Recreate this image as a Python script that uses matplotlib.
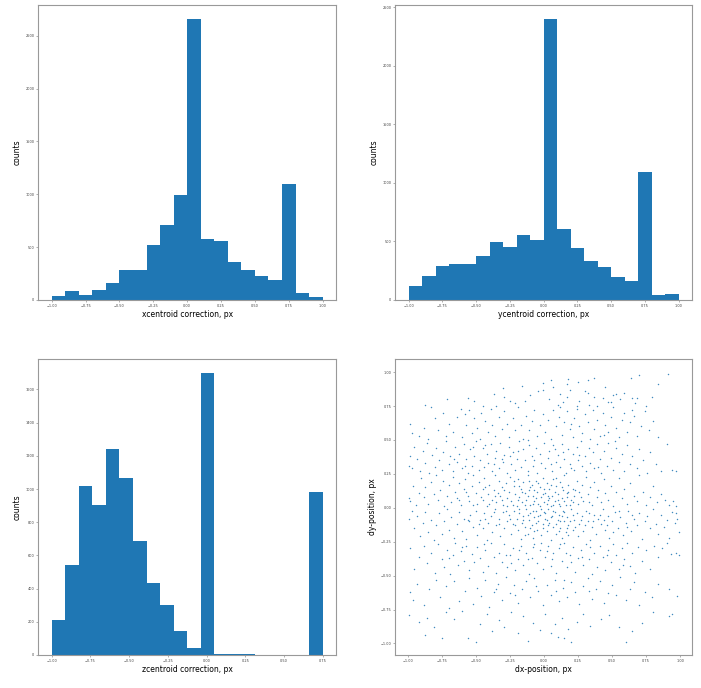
import numpy as np
import matplotlib
matplotlib.use("Agg")
import matplotlib.pyplot as plt
from matplotlib.ticker import MultipleLocator

# histogram counts (20 bins each)
x_counts = [41, 82, 50, 95, 158, 280, 280, 517, 709, 996,
            2657, 580, 558, 356, 284, 227, 189, 1094, 69, 25]
y_counts = [119, 208, 287, 310, 304, 375, 495, 452, 552, 515,
            2398, 603, 444, 336, 284, 196, 162, 1092, 43, 48]
z_counts = [211, 545, 1020, 903, 1243, 1064, 684, 433, 302, 143,
            44, 1698, 8, 3, 6, 0, 0, 0, 0, 982]

x_range = (-1.0, 1.0)
y_range = (-1.0, 1.0)
z_range = (-1.0, 0.75)

# scatter points (dx, dy), grouped in dy bands
band_a = [(-0.01, 0.92), (0.05, 0.94), (0.18, 0.95), (0.25, 0.93), (0.32, 0.94), (0.37, 0.96),
          (0.70, 0.98), (0.91, 0.99), (0.64, 0.96), (-0.16, 0.90), (-0.29, 0.82), (-0.25, 0.79),
          (-0.56, 0.81), (-0.71, 0.80), (-0.87, 0.76), (-0.51, 0.79), (0.07, 0.89), (0.19, 0.87),
          (0.30, 0.86), (0.45, 0.89), (0.53, 0.84), (0.59, 0.85), (0.68, 0.81), (0.79, 0.82),
          (0.84, 0.91), (-0.04, 0.86), (-0.14, 0.79), (0.43, 0.81), (0.39, 0.75), (0.75, 0.75),
          (0.65, 0.72), (-0.01, 0.87), (0.12, 0.84), (0.17, 0.82), (0.26, 0.79), (0.33, 0.76),
          (0.49, 0.78), (0.56, 0.80), (0.65, 0.81), (0.17, 0.91), (0.32, 0.85), (-0.10, 0.83),
          (-0.37, 0.84), (-0.30, 0.88), (0.04, 0.80), (0.37, 0.82), (0.47, 0.78), (0.10, 0.76),
          (-0.21, 0.77), (-0.45, 0.75), (0.14, 0.78), (0.67, 0.77), (0.51, 0.83), (0.24, 0.75)]
band_b = [(-0.98, 0.62), (-0.97, 0.55), (-0.92, 0.53), (-0.88, 0.59), (-0.85, 0.51), (-0.83, 0.74),
          (-0.78, 0.57), (-0.74, 0.70), (-0.72, 0.53), (-0.70, 0.62), (-0.67, 0.56), (-0.64, 0.67),
          (-0.61, 0.73), (-0.60, 0.52), (-0.57, 0.61), (-0.55, 0.72), (-0.53, 0.55), (-0.51, 0.66),
          (-0.49, 0.59), (-0.47, 0.51), (-0.46, 0.70), (-0.43, 0.64), (-0.41, 0.56), (-0.39, 0.73),
          (-0.38, 0.61), (-0.36, 0.53), (-0.33, 0.67), (-0.31, 0.58), (-0.29, 0.71), (-0.27, 0.62),
          (-0.26, 0.52), (-0.23, 0.66), (-0.21, 0.57), (-0.19, 0.74), (-0.17, 0.61), (-0.15, 0.51),
          (-0.13, 0.68), (-0.11, 0.57), (-0.09, 0.64), (-0.07, 0.72), (-0.05, 0.53), (-0.03, 0.61),
          (-0.01, 0.69), (0.01, 0.56), (0.03, 0.65), (0.05, 0.51), (0.07, 0.72), (0.09, 0.60),
          (0.11, 0.67), (0.13, 0.54), (0.15, 0.63), (0.17, 0.71), (0.19, 0.58), (0.21, 0.52),
          (0.22, 0.66), (0.24, 0.73), (0.26, 0.60), (0.28, 0.55), (0.30, 0.69), (0.32, 0.63),
          (0.34, 0.51), (0.36, 0.72), (0.37, 0.58), (0.39, 0.65), (0.41, 0.53), (0.43, 0.70),
          (0.45, 0.61), (0.47, 0.56), (0.49, 0.67), (0.51, 0.74), (0.53, 0.59), (0.55, 0.52),
          (0.57, 0.65), (0.59, 0.70), (0.61, 0.56), (0.63, 0.63), (0.66, 0.68), (0.68, 0.53),
          (0.71, 0.60), (0.74, 0.71), (0.77, 0.57), (0.80, 0.64), (0.84, 0.52), (-0.80, 0.66),
          (-0.58, 0.69), (0.12, 0.74), (0.44, 0.54), (-0.35, 0.75), (0.20, 0.62), (-0.12, 0.50)]
band_c = [(-0.99, 0.31), (-0.98, 0.38), (-0.97, 0.29), (-0.95, 0.45), (-0.93, 0.36), (-0.91, 0.27),
          (-0.89, 0.42), (-0.87, 0.33), (-0.86, 0.48), (-0.84, 0.26), (-0.82, 0.39), (-0.80, 0.30),
          (-0.79, 0.44), (-0.77, 0.35), (-0.75, 0.28), (-0.74, 0.41), (-0.72, 0.49), (-0.70, 0.32),
          (-0.69, 0.38), (-0.67, 0.27), (-0.65, 0.45), (-0.64, 0.34), (-0.62, 0.40), (-0.60, 0.29),
          (-0.59, 0.47), (-0.57, 0.36), (-0.56, 0.26), (-0.54, 0.43), (-0.53, 0.31), (-0.51, 0.38),
          (-0.50, 0.49), (-0.48, 0.28), (-0.47, 0.35), (-0.45, 0.44), (-0.44, 0.30), (-0.42, 0.40),
          (-0.41, 0.33), (-0.39, 0.47), (-0.38, 0.27), (-0.36, 0.37), (-0.35, 0.42), (-0.33, 0.29),
          (-0.32, 0.48), (-0.30, 0.34), (-0.29, 0.39), (-0.27, 0.26), (-0.26, 0.45), (-0.24, 0.32),
          (-0.23, 0.41), (-0.21, 0.28), (-0.20, 0.36), (-0.18, 0.49), (-0.17, 0.30), (-0.15, 0.43),
          (-0.14, 0.35), (-0.12, 0.27), (-0.11, 0.46), (-0.09, 0.38), (-0.08, 0.31), (-0.06, 0.44),
          (-0.05, 0.26), (-0.03, 0.40), (-0.02, 0.33), (0.00, 0.48), (0.01, 0.29), (0.03, 0.37),
          (0.04, 0.42), (0.06, 0.27), (0.07, 0.46), (0.09, 0.34), (0.10, 0.39), (0.12, 0.30),
          (0.13, 0.47), (0.15, 0.36), (0.16, 0.26), (0.18, 0.43), (0.19, 0.32), (0.21, 0.40),
          (0.22, 0.28), (0.24, 0.45), (0.25, 0.35), (0.27, 0.49), (0.28, 0.31), (0.30, 0.38),
          (0.31, 0.27), (0.33, 0.44), (0.34, 0.33), (0.36, 0.41), (0.37, 0.29), (0.39, 0.47),
          (0.41, 0.36), (0.42, 0.26), (0.44, 0.42), (0.46, 0.31), (0.47, 0.48), (0.49, 0.37),
          (0.51, 0.28), (0.53, 0.44), (0.55, 0.34), (0.57, 0.40), (0.59, 0.27), (0.61, 0.46),
          (0.63, 0.32), (0.65, 0.38), (0.68, 0.29), (0.70, 0.43), (0.73, 0.35), (0.76, 0.26),
          (0.78, 0.41), (0.82, 0.32), (0.86, 0.27), (0.90, 0.47), (0.94, 0.28), (0.97, 0.27),
          (-0.58, 0.31), (-0.43, 0.46), (-0.31, 0.36), (-0.19, 0.42), (-0.07, 0.35), (0.05, 0.32),
          (0.14, 0.41), (0.26, 0.39), (-0.37, 0.32), (-0.25, 0.38), (0.40, 0.30), (0.52, 0.49),
          (-0.66, 0.36), (-0.52, 0.45), (0.08, 0.43), (0.20, 0.29)]
band_d = [(-0.99, 0.07), (-0.98, 0.05), (-0.96, 0.16), (-0.94, 0.02), (-0.92, 0.11), (-0.90, 0.22),
          (-0.88, 0.08), (-0.87, 0.15), (-0.85, 0.03), (-0.83, 0.19), (-0.81, 0.10), (-0.79, 0.24),
          (-0.78, 0.06), (-0.76, 0.13), (-0.74, 0.20), (-0.73, 0.01), (-0.71, 0.09), (-0.70, 0.17),
          (-0.68, 0.04), (-0.67, 0.23), (-0.65, 0.12), (-0.64, 0.07), (-0.62, 0.18), (-0.61, 0.02),
          (-0.59, 0.14), (-0.58, 0.21), (-0.56, 0.09), (-0.55, 0.05), (-0.53, 0.16), (-0.52, 0.24),
          (-0.50, 0.11), (-0.49, 0.03), (-0.48, 0.19), (-0.46, 0.08), (-0.45, 0.14), (-0.44, 0.22),
          (-0.42, 0.01), (-0.41, 0.10), (-0.40, 0.17), (-0.38, 0.06), (-0.37, 0.13), (-0.36, 0.24),
          (-0.35, 0.04), (-0.33, 0.20), (-0.32, 0.09), (-0.31, 0.15), (-0.30, 0.02), (-0.28, 0.18),
          (-0.27, 0.07), (-0.26, 0.12), (-0.25, 0.23), (-0.24, 0.05), (-0.22, 0.16), (-0.21, 0.10),
          (-0.20, 0.01), (-0.19, 0.21), (-0.18, 0.08), (-0.17, 0.14), (-0.16, 0.04), (-0.15, 0.19),
          (-0.14, 0.11), (-0.13, 0.06), (-0.12, 0.24), (-0.11, 0.13), (-0.10, 0.02), (-0.09, 0.17),
          (-0.08, 0.09), (-0.07, 0.05), (-0.06, 0.20), (-0.05, 0.12), (-0.04, 0.03), (-0.03, 0.15),
          (-0.02, 0.08), (-0.01, 0.22), (0.00, 0.04), (0.01, 0.11), (0.02, 0.18), (0.03, 0.06),
          (0.04, 0.14), (0.05, 0.01), (0.06, 0.09), (0.07, 0.21), (0.08, 0.05), (0.09, 0.16),
          (0.10, 0.10), (0.11, 0.03), (0.12, 0.19), (0.13, 0.07), (0.14, 0.13), (0.15, 0.24),
          (0.16, 0.02), (0.17, 0.11), (0.18, 0.17), (0.20, 0.06), (0.21, 0.14), (0.22, 0.09),
          (0.24, 0.20), (0.25, 0.03), (0.26, 0.12), (0.28, 0.17), (0.29, 0.05), (0.31, 0.23),
          (0.32, 0.10), (0.34, 0.15), (0.35, 0.02), (0.37, 0.19), (0.39, 0.08), (0.40, 0.13),
          (0.42, 0.04), (0.44, 0.21), (0.45, 0.11), (0.47, 0.06), (0.49, 0.16), (0.51, 0.01),
          (0.53, 0.12), (0.55, 0.22), (0.57, 0.07), (0.59, 0.14), (0.61, 0.03), (0.63, 0.18),
          (0.66, 0.09), (0.68, 0.05), (0.70, 0.24), (0.73, 0.12), (0.75, 0.02), (0.78, 0.08),
          (0.80, 0.16), (0.83, 0.04), (0.86, 0.10), (0.89, 0.06), (0.92, 0.02), (0.95, 0.05),
          (0.97, 0.01), (-0.45, 0.06), (-0.40, 0.03), (-0.34, 0.11), (-0.29, 0.13), (-0.23, 0.02),
          (-0.22, 0.20), (-0.19, 0.06), (-0.16, 0.12), (-0.14, 0.02), (-0.12, 0.09), (-0.10, 0.15),
          (-0.08, 0.03), (-0.06, 0.07), (-0.04, 0.18), (-0.03, 0.01), (-0.01, 0.10), (0.00, 0.14),
          (0.02, 0.03), (0.03, 0.09), (0.05, 0.17), (0.07, 0.02), (0.08, 0.12), (0.10, 0.06),
          (0.12, 0.01), (0.13, 0.15), (0.15, 0.05), (0.17, 0.08), (0.19, 0.02), (0.21, 0.04),
          (0.23, 0.13), (-0.27, 0.01), (-0.31, 0.06), (-0.36, 0.09), (-0.43, 0.15), (-0.52, 0.02),
          (-0.57, 0.12), (-0.62, 0.06), (-0.11, 0.20), (0.09, 0.22), (-0.18, 0.16), (-0.07, 0.13),
          (0.04, 0.07), (0.27, 0.08), (0.33, 0.04), (0.18, 0.12)]
band_e = [(-0.99, -0.08), (-0.97, -0.02), (-0.95, -0.15), (-0.93, -0.06), (-0.91, -0.21), (-0.89, -0.11),
          (-0.87, -0.03), (-0.85, -0.18), (-0.83, -0.09), (-0.81, -0.24), (-0.79, -0.13), (-0.77, -0.04),
          (-0.75, -0.19), (-0.73, -0.10), (-0.71, -0.01), (-0.70, -0.16), (-0.68, -0.07), (-0.66, -0.22),
          (-0.64, -0.12), (-0.62, -0.03), (-0.60, -0.17), (-0.59, -0.08), (-0.57, -0.23), (-0.55, -0.10),
          (-0.54, -0.05), (-0.52, -0.14), (-0.50, -0.02), (-0.49, -0.20), (-0.47, -0.09), (-0.45, -0.15),
          (-0.44, -0.04), (-0.42, -0.24), (-0.41, -0.11), (-0.39, -0.06), (-0.38, -0.18), (-0.36, -0.01),
          (-0.35, -0.13), (-0.33, -0.08), (-0.32, -0.21), (-0.30, -0.03), (-0.29, -0.15), (-0.27, -0.10),
          (-0.26, -0.05), (-0.24, -0.19), (-0.23, -0.12), (-0.22, -0.02), (-0.20, -0.08), (-0.19, -0.16),
          (-0.18, -0.04), (-0.17, -0.23), (-0.16, -0.11), (-0.15, -0.06), (-0.14, -0.14), (-0.13, -0.01),
          (-0.12, -0.19), (-0.11, -0.09), (-0.10, -0.04), (-0.09, -0.13), (-0.08, -0.22), (-0.07, -0.07),
          (-0.06, -0.02), (-0.05, -0.16), (-0.04, -0.10), (-0.03, -0.05), (-0.02, -0.20), (-0.01, -0.12),
          (0.00, -0.03), (0.01, -0.08), (0.02, -0.17), (0.03, -0.01), (0.04, -0.11), (0.05, -0.24),
          (0.06, -0.06), (0.07, -0.14), (0.08, -0.03), (0.09, -0.19), (0.10, -0.09), (0.11, -0.05),
          (0.12, -0.15), (0.13, -0.22), (0.14, -0.02), (0.15, -0.10), (0.16, -0.18), (0.17, -0.07),
          (0.18, -0.13), (0.20, -0.01), (0.21, -0.16), (0.22, -0.09), (0.24, -0.04), (0.25, -0.21),
          (0.26, -0.12), (0.28, -0.06), (0.29, -0.17), (0.31, -0.02), (0.32, -0.10), (0.34, -0.24),
          (0.35, -0.14), (0.37, -0.05), (0.38, -0.19), (0.40, -0.08), (0.42, -0.12), (0.43, -0.01),
          (0.45, -0.16), (0.47, -0.06), (0.48, -0.22), (0.50, -0.10), (0.52, -0.03), (0.54, -0.15),
          (0.56, -0.07), (0.58, -0.20), (0.60, -0.11), (0.62, -0.02), (0.64, -0.17), (0.66, -0.08),
          (0.68, -0.13), (0.70, -0.04), (0.72, -0.23), (0.74, -0.10), (0.76, -0.06), (0.78, -0.15),
          (0.80, -0.01), (0.82, -0.12), (0.84, -0.19), (0.86, -0.05), (0.88, -0.14), (0.90, -0.09),
          (0.92, -0.22), (0.94, -0.03), (0.96, -0.11), (0.97, -0.04), (0.98, -0.08), (0.99, -0.18),
          (-0.28, -0.02), (-0.25, -0.08), (-0.21, -0.13), (-0.18, -0.01), (-0.15, -0.09), (-0.12, -0.05),
          (-0.10, -0.15), (-0.08, -0.02), (-0.06, -0.11), (-0.04, -0.06), (-0.02, -0.01), (-0.01, -0.15),
          (0.01, -0.04), (0.03, -0.13), (0.05, -0.07), (0.07, -0.02), (0.09, -0.12), (0.11, -0.17),
          (0.13, -0.06), (0.15, -0.03), (0.17, -0.15), (0.19, -0.10), (0.21, -0.05), (0.23, -0.14),
          (0.27, -0.09), (0.30, -0.13), (0.33, -0.04), (0.36, -0.10), (0.41, -0.05), (0.46, -0.13),
          (0.51, -0.18), (0.55, -0.02), (0.61, -0.14), (-0.33, -0.12), (-0.37, -0.03), (-0.43, -0.08),
          (-0.48, -0.12), (-0.56, -0.09), (0.12, -0.10), (0.02, -0.09), (-0.07, -0.17), (0.18, -0.20),
          (0.44, -0.09), (0.65, -0.05), (-0.14, -0.20)]
band_f = [(-0.98, -0.30), (-0.95, -0.45), (-0.92, -0.36), (-0.88, -0.28), (-0.86, -0.41), (-0.83, -0.33),
          (-0.80, -0.48), (-0.78, -0.27), (-0.75, -0.38), (-0.73, -0.44), (-0.71, -0.31), (-0.69, -0.49),
          (-0.67, -0.35), (-0.65, -0.26), (-0.63, -0.42), (-0.61, -0.32), (-0.59, -0.39), (-0.57, -0.28),
          (-0.55, -0.46), (-0.53, -0.34), (-0.51, -0.40), (-0.49, -0.29), (-0.47, -0.37), (-0.45, -0.47),
          (-0.43, -0.31), (-0.41, -0.43), (-0.39, -0.26), (-0.37, -0.36), (-0.35, -0.48), (-0.33, -0.33),
          (-0.31, -0.40), (-0.29, -0.27), (-0.27, -0.44), (-0.25, -0.35), (-0.23, -0.30), (-0.21, -0.46),
          (-0.19, -0.38), (-0.17, -0.28), (-0.15, -0.42), (-0.13, -0.33), (-0.11, -0.49), (-0.09, -0.37),
          (-0.07, -0.27), (-0.05, -0.41), (-0.03, -0.31), (-0.01, -0.45), (0.01, -0.36), (0.03, -0.28),
          (0.05, -0.43), (0.07, -0.33), (0.09, -0.48), (0.11, -0.30), (0.13, -0.39), (0.15, -0.26),
          (0.17, -0.44), (0.19, -0.35), (0.21, -0.29), (0.23, -0.47), (0.25, -0.37), (0.27, -0.31),
          (0.29, -0.42), (0.31, -0.27), (0.33, -0.38), (0.35, -0.49), (0.37, -0.33), (0.39, -0.44),
          (0.41, -0.28), (0.43, -0.36), (0.45, -0.46), (0.47, -0.31), (0.49, -0.40), (0.51, -0.27),
          (0.53, -0.35), (0.55, -0.45), (0.57, -0.30), (0.59, -0.38), (0.61, -0.26), (0.63, -0.43),
          (0.65, -0.33), (0.67, -0.48), (0.69, -0.29), (0.72, -0.39), (0.75, -0.31), (0.78, -0.45),
          (0.81, -0.28), (0.84, -0.36), (0.87, -0.30), (0.90, -0.26), (0.93, -0.34), (0.97, -0.33),
          (0.99, -0.35), (-0.28, -0.35), (-0.18, -0.31), (-0.08, -0.29), (0.02, -0.32), (0.12, -0.27),
          (0.20, -0.40), (0.06, -0.38), (-0.02, -0.26), (-0.12, -0.38), (-0.44, -0.27), (-0.60, -0.29),
          (-0.70, -0.37), (0.34, -0.29), (0.46, -0.35), (0.58, -0.42), (0.16, -0.33), (-0.24, -0.41),
          (0.28, -0.36)]
band_g = [(-0.98, -0.62), (-0.96, -0.68), (-0.93, -0.56), (-0.88, -0.72), (-0.84, -0.60), (-0.79, -0.53),
          (-0.76, -0.66), (-0.72, -0.58), (-0.70, -0.74), (-0.66, -0.54), (-0.62, -0.69), (-0.58, -0.61),
          (-0.55, -0.52), (-0.52, -0.71), (-0.49, -0.59), (-0.46, -0.65), (-0.43, -0.53), (-0.40, -0.73),
          (-0.37, -0.62), (-0.34, -0.56), (-0.31, -0.68), (-0.28, -0.51), (-0.25, -0.63), (-0.22, -0.57),
          (-0.19, -0.70), (-0.16, -0.60), (-0.13, -0.54), (-0.10, -0.66), (-0.07, -0.52), (-0.04, -0.61),
          (-0.01, -0.72), (0.02, -0.57), (0.05, -0.64), (0.08, -0.53), (0.11, -0.69), (0.14, -0.59),
          (0.17, -0.66), (0.20, -0.55), (0.23, -0.62), (0.26, -0.71), (0.29, -0.58), (0.32, -0.52),
          (0.35, -0.67), (0.38, -0.60), (0.41, -0.54), (0.44, -0.70), (0.47, -0.63), (0.50, -0.57),
          (0.53, -0.64), (0.56, -0.51), (0.60, -0.68), (0.63, -0.60), (0.66, -0.55), (0.70, -0.72),
          (0.74, -0.62), (0.79, -0.66), (0.84, -0.56), (0.92, -0.60), (0.98, -0.65), (-0.06, -0.58),
          (0.09, -0.61), (0.15, -0.53), (-0.21, -0.64), (0.33, -0.61), (-0.35, -0.60)]
band_h = [(-0.99, -0.79), (-0.92, -0.84), (-0.87, -0.94), (-0.86, -0.81), (-0.81, -0.88), (-0.75, -0.96),
          (-0.72, -0.77), (-0.66, -0.82), (-0.60, -0.76), (-0.56, -0.96), (-0.50, -0.99), (-0.47, -0.86),
          (-0.42, -0.78), (-0.38, -0.91), (-0.33, -0.83), (-0.29, -0.88), (-0.24, -0.77), (-0.19, -0.92),
          (-0.15, -0.80), (-0.12, -0.98), (-0.08, -0.85), (-0.03, -0.90), (0.01, -0.78), (0.05, -0.92),
          (0.08, -0.86), (0.10, -0.95), (0.13, -0.81), (0.15, -0.96), (0.18, -0.89), (0.20, -0.99),
          (0.24, -0.84), (0.29, -0.78), (0.34, -0.87), (0.42, -0.82), (0.48, -0.79), (0.55, -0.88),
          (0.60, -0.99), (0.65, -0.91), (0.72, -0.85), (0.80, -0.77), (0.92, -0.80), (0.94, -0.78)]

BLUE = "#1f77b4"


def style_axes(ax):
    for sp in ax.spines.values():
        sp.set_color("0.6")
        sp.set_linewidth(0.8)
    ax.tick_params(labelsize=2.5, length=1.5, width=0.4, pad=1.2,
                   color="0.45", labelcolor="0.25")


def draw_hist(ax, counts, rng, xlabel, ystep):
    edges = np.linspace(rng[0], rng[1], len(counts) + 1)
    centers = (edges[:-1] + edges[1:]) / 2
    ax.hist(centers, bins=edges, weights=counts, color=BLUE)
    ax.xaxis.set_major_locator(MultipleLocator(0.25))
    ax.yaxis.set_major_locator(MultipleLocator(ystep))
    ax.set_xlabel(xlabel, fontsize=5.5, labelpad=1.5)
    ax.set_ylabel("counts", fontsize=5.5, labelpad=2.5)
    style_axes(ax)


def main():
    fig = plt.figure(figsize=(7.01, 6.88), dpi=100)
    ax1 = fig.add_axes([0.0545, 0.564, 0.4250, 0.4285])
    ax2 = fig.add_axes([0.5635, 0.564, 0.4237, 0.4285])
    ax3 = fig.add_axes([0.0545, 0.048, 0.4250, 0.4300])
    ax4 = fig.add_axes([0.5635, 0.048, 0.4237, 0.4300])

    draw_hist(ax1, x_counts, x_range, "xcentroid correction, px", 500)
    draw_hist(ax2, y_counts, y_range, "ycentroid correction, px", 500)
    draw_hist(ax3, z_counts, z_range, "zcentroid correction, px", 200)

    pts = band_a + band_b + band_c + band_d + band_e + band_f + band_g + band_h
    dx_pos = [p[0] for p in pts]
    dy_pos = [p[1] for p in pts]
    ax4.scatter(dx_pos, dy_pos, s=1.1, color=BLUE, linewidths=0, alpha=0.85)
    ax4.set_xlim(-1.093, 1.087)
    ax4.set_ylim(-1.085, 1.096)
    ax4.xaxis.set_major_locator(MultipleLocator(0.25))
    ax4.yaxis.set_major_locator(MultipleLocator(0.25))
    ax4.set_xlabel("dx-position, px", fontsize=5.5, labelpad=1.5)
    ax4.set_ylabel("dy-position, px", fontsize=5.5, labelpad=2.5)
    style_axes(ax4)

    fig.savefig("out.png", dpi=100)
    plt.close(fig)


if __name__ == "__main__":
    main()
